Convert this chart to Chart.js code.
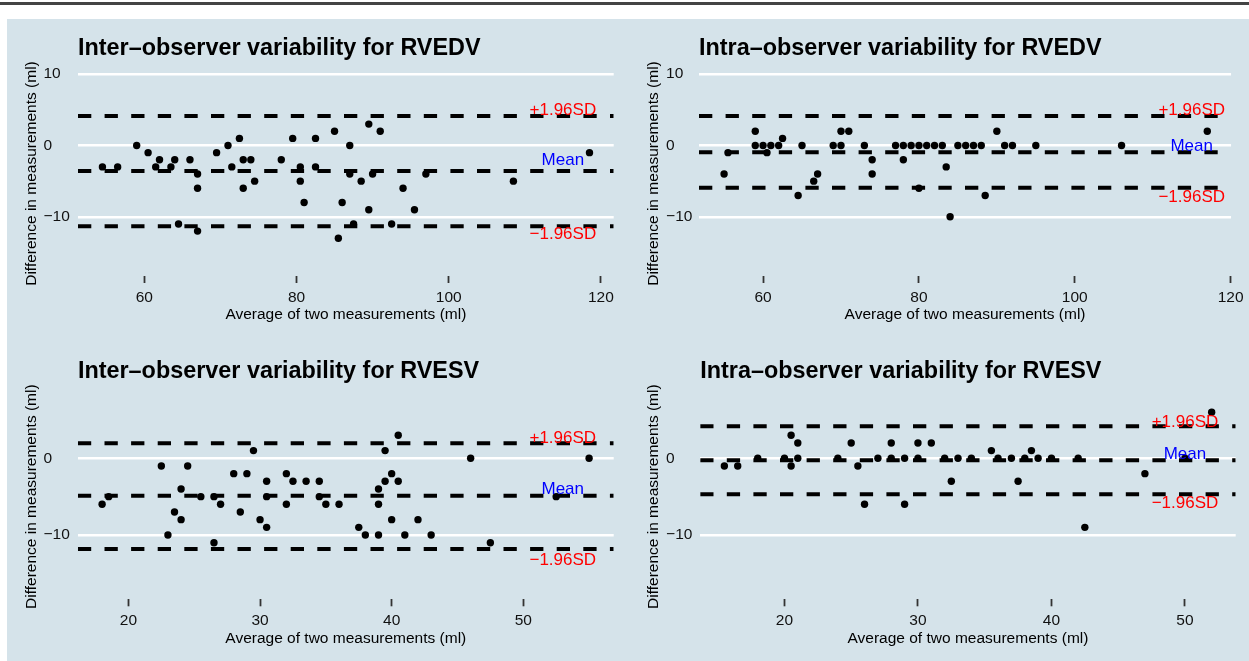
<!DOCTYPE html>
<html>
<head>
<meta charset="utf-8">
<script src="https://cdn.jsdelivr.net/npm/chart.js@4.4.1/dist/chart.umd.min.js"></script>
<style>
  body { margin: 0; width: 1249px; height: 661px; overflow: hidden; position: relative; background: #fff; }
  #rule { position: absolute; left: 0; top: 2px; width: 1249px; height: 3px; background: #444; }
  #bg { position: absolute; left: 7px; top: 19px; right: 0; bottom: 0; background: #d5e3ea; }
  canvas { position: absolute; }
</style>
</head>
<body>
<div id="rule"></div>
<div id="bg"></div>
<canvas id="interEdv" width="613" height="311" style="left:7px;top:19px"></canvas>
<canvas id="intraEdv" width="629" height="311" style="left:620px;top:19px"></canvas>
<canvas id="interEsv" width="613" height="331" style="left:7px;top:330px"></canvas>
<canvas id="intraEsv" width="629" height="331" style="left:620px;top:330px"></canvas>
<script>
// Bland-Altman panels: average vs difference, with mean and ±1.96SD lines
const FONT = "'Liberation Sans', Arial, sans-serif";

const xTicksEdv = [60, 80, 100, 120];
const xTicksEsv = [20, 30, 40, 50];
const yTicks = [-10, 0, 10];

const lineLabels = ["+1.96SD", "Mean", "\u22121.96SD"];
const lineLabelColors = ["#ff0000", "#0000ff", "#ff0000"];

// Inter-observer RVEDV
const interEdvAvg = [54.5, 56.5, 59, 60.5, 62, 61.5, 63.5, 64, 66, 67, 67, 64.5, 67, 69.5, 71, 72.5, 71.5, 73, 74, 73,
  74.5, 78, 79.5, 80.5, 80.5, 81, 82.5, 82.5, 85, 87, 87, 86, 87.5, 85.5, 88.5, 89.5, 91, 90, 89.5, 94,
  95.5, 97, 92.5, 108.5, 118.5];
const interEdvDiff = [-3, -3, 0, -1, -2, -3, -3, -2, -2, -4, -6, -11, -12, -1, 0, 1, -3, -2, -2, -6,
  -5, -2, 1, -3, -5, -8, 1, -3, 2, 0, -4, -8, -11, -13, -5, 3, 2, -4, -9, -6,
  -9, -4, -11, -5, -1];
const interEdvLines = [4.14, -3.58, -11.33];

// Intra-observer RVEDV
const intraEdvAvg = [55, 55.5, 59, 59, 60, 60.5, 61, 62, 62.5, 64.5, 65, 66.5, 67, 69, 70, 70, 71, 73, 74, 74,
  77, 78, 78, 79, 80, 80, 81, 82, 83, 83.5, 84, 85, 86, 87, 88, 88.5, 90, 91, 92, 95, 106, 117];
const intraEdvDiff = [-4, -1, 2, 0, 0, -1, 0, 0, 1, -7, 0, -5, -4, 0, 0, 2, 2, 0, -2, -4,
  0, 0, -2, 0, 0, -6, 0, 0, 0, -3, -10, 0, 0, 0, 0, -7, 2, 0, 0, 0, 0, 2];
const intraEdvLines = [4.14, -0.95, -5.92];

// Inter-observer RVESV
const interEsvAvg = [18, 18.5, 22.5, 23, 23.5, 24, 24, 24.5, 25.5, 26.5, 26.5, 27, 28, 28.5, 29, 29.5, 30, 30.5, 30.5, 30.5,
  32, 32, 32.5, 33.5, 34.5, 34.5, 35, 36, 37.5, 38, 39, 39, 39, 39.5, 39.5, 40, 40, 40.5, 40.5, 41,
  42, 43, 46, 47.5, 52.5, 55];
const interEsvDiff = [-6, -5, -1, -10, -7, -4, -8, -1, -5, -5, -11, -6, -2, -7, -2, 1, -8, -3, -5, -9,
  -2, -6, -3, -3, -3, -5, -6, -6, -9, -10, -4, -6, -10, 1, -3, -2, -8, 3, -3, -10,
  -8, -10, 0, -11, -5, 0];
const interEsvLines = [1.96, -4.88, -11.83];

// Intra-observer RVESV
const intraEsvAvg = [15.5, 16.5, 18, 20, 20.5, 20.5, 21, 21, 24, 25, 25.5, 26, 27, 28, 28, 29, 29, 30, 30, 31,
  32, 32.5, 33, 34, 35.5, 36, 37, 37.5, 38, 38.5, 39, 40, 42, 42.5, 47, 50, 52];
const intraEsvDiff = [-1, -1, 0, 0, 3, -1, 2, 0, 0, 2, -1, -6, 0, 2, 0, 0, -6, 2, 0, 2,
  0, -3, 0, 0, 1, 0, 0, -3, 0, 1, 0, 0, 0, -9, -2, 0, 6];
const intraEsvLines = [4.17, -0.26, -4.69];

const minus = (v) => String(v).replace("-", "\u2212");

// titles + line labels drawn on top of the plot
const panelText = {
  id: "panelText",
  afterDatasetsDraw(chart, args, opts) {
    const { ctx, chartArea, scales } = chart;
    ctx.save();
    ctx.textBaseline = "alphabetic";
    ctx.fillStyle = "#000";
    ctx.textAlign = "left";
    ctx.font = `bold 23.4px ${FONT}`;
    ctx.fillText(opts.title, chartArea.left, chartArea.top - 16);
    ctx.font = `17px ${FONT}`;
    ctx.textAlign = "center";
    lineLabels.forEach((t, i) => {
      ctx.fillStyle = lineLabelColors[i];
      ctx.fillText(t, scales.x.getPixelForValue(opts.labelX), scales.y.getPixelForValue(opts.labelY[i]) + 6);
    });
    ctx.restore();
  },
};

function drawPanel(id, p) {
  const tickFont = { family: FONT, size: 15.5 };
  const lineSets = p.lines.map((v) => ({
    type: "line",
    data: [{ x: p.xRange[0], y: v }, { x: p.xRange[1], y: v }],
    borderColor: "#000",
    borderWidth: 4,
    borderDash: [13.3, 13.3],
    borderCapStyle: "butt",
    pointRadius: 0,
    fill: false,
  }));
  return new Chart(document.getElementById(id), {
    type: "scatter",
    data: {
      datasets: [
        ...lineSets,
        {
          data: p.avg.map((x, i) => ({ x, y: p.diff[i] })),
          pointRadius: 3.7,
          pointBackgroundColor: "#000",
          pointBorderWidth: 0,
        },
      ],
    },
    options: {
      responsive: false,
      animation: false,
      devicePixelRatio: 1,
      events: [],
      layout: { padding: p.pad },
      plugins: {
        legend: { display: false },
        tooltip: { enabled: false },
        panelText: { title: p.title, labelX: p.labelX, labelY: p.labelY },
      },
      scales: {
        x: {
          type: "linear",
          min: p.xRange[0],
          max: p.xRange[1],
          afterBuildTicks: (s) => { s.ticks = p.xTicks.map((v) => ({ value: v })); },
          afterFit: (s) => { s.height = 54; },
          border: { display: false },
          grid: { drawOnChartArea: false, drawTicks: true, tickLength: 7, tickWidth: 1.8, tickColor: "#333" },
          ticks: { padding: 5.4, color: "#111", font: tickFont, maxRotation: 0 },
          title: {
            display: true,
            text: "Average of two measurements (ml)",
            color: "#000",
            font: tickFont,
            padding: { top: 0, bottom: 5.7 },
          },
        },
        y: {
          type: "linear",
          min: p.yRange[0],
          max: p.yRange[1],
          afterBuildTicks: (s) => {
            s.ticks = yTicks.filter((v) => v >= p.yRange[0] && v <= p.yRange[1]).map((v) => ({ value: v }));
          },
          afterFit: (s) => { s.width = p.yWidth; },
          border: { display: false },
          grid: { color: "#fff", lineWidth: 2.5, drawTicks: false },
          ticks: { crossAlign: "far", color: "#111", font: tickFont, callback: (v) => minus(v) },
          title: {
            display: true,
            text: "Difference in measurements (ml)",
            color: "#000",
            font: tickFont,
            padding: { top: -21.3, bottom: 0 },
          },
        },
      },
    },
    plugins: [panelText],
  });
}

drawPanel("interEdv", {
  title: "Inter\u2013observer variability for RVEDV",
  avg: interEdvAvg, diff: interEdvDiff, lines: interEdvLines,
  xTicks: xTicksEdv, xRange: [51.29, 121.68], yRange: [-18.3, 10.45],
  labelX: 115, labelY: [5.1, -1.85, -12.3],
  yWidth: 34.5, pad: { left: 36.5, top: 52, right: 6.3, bottom: 0 },
});
drawPanel("intraEdv", {
  title: "Intra\u2013observer variability for RVEDV",
  avg: intraEdvAvg, diff: intraEdvDiff, lines: intraEdvLines,
  xTicks: xTicksEdv, xRange: [51.78, 120.05], yRange: [-18.3, 10.45],
  labelX: 115, labelY: [5.08, 0.07, -7.08],
  yWidth: 32.9, pad: { left: 46.1, top: 52, right: 13.3, bottom: 0 },
});
drawPanel("interEsv", {
  title: "Inter\u2013observer variability for RVESV",
  avg: interEsvAvg, diff: interEsvDiff, lines: interEsvLines,
  xTicks: xTicksEsv, xRange: [16.16, 56.87], yRange: [-18.38, 8.38],
  labelX: 53, labelY: [2.82, -3.9, -13.1],
  yWidth: 34.4, pad: { left: 36.5, top: 64, right: 6.3, bottom: 7.7 },
});
drawPanel("intraEsv", {
  title: "Intra\u2013observer variability for RVESV",
  avg: intraEsvAvg, diff: intraEsvDiff, lines: intraEsvLines,
  xTicks: xTicksEsv, xRange: [13.69, 53.8], yRange: [-18.38, 8.38],
  labelX: 50, labelY: [4.9, 0.65, -5.66],
  yWidth: 34.1, pad: { left: 46.1, top: 64, right: 13.3, bottom: 7.7 },
});
</script>
</body>
</html>
